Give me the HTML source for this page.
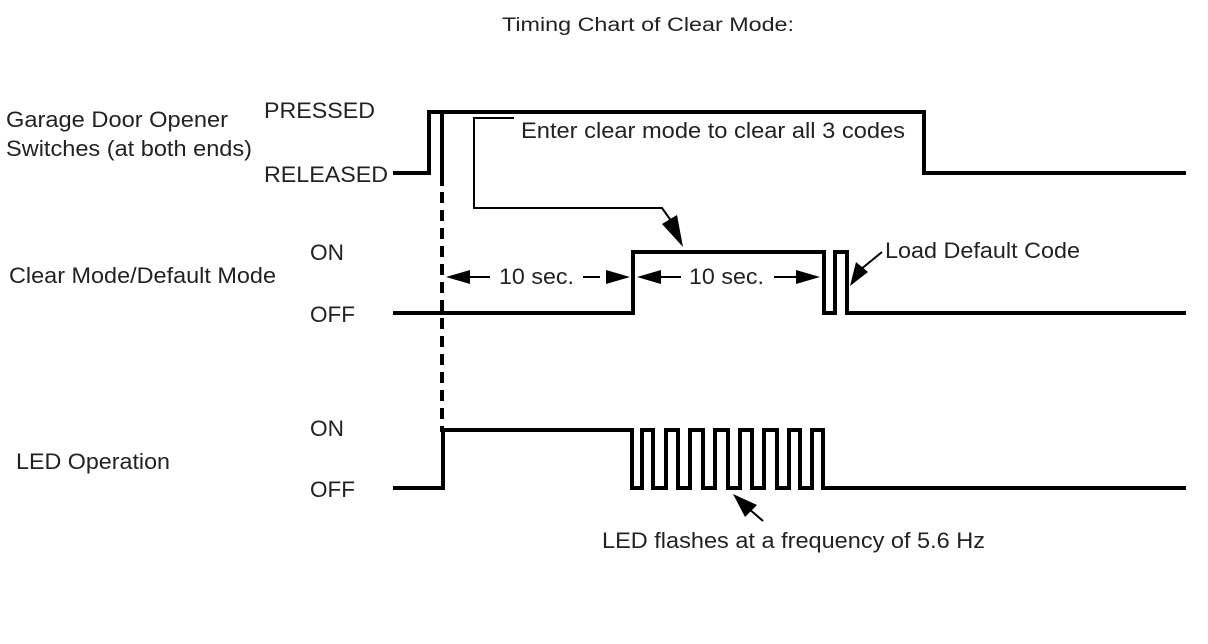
<!DOCTYPE html>
<html><head><meta charset="utf-8"><style>
html,body{margin:0;padding:0;background:#fff;}
svg{display:block;}
text{font-family:"Liberation Sans",Arial,sans-serif;fill:#222;}
</style></head><body>
<svg width="1208" height="644" viewBox="0 0 1208 644" xmlns="http://www.w3.org/2000/svg">
<g font-size="19">
<text x="502" y="31" textLength="292" lengthAdjust="spacingAndGlyphs">Timing Chart of Clear Mode:</text>
</g>
<g font-size="22">
<text x="6" y="127" textLength="222" lengthAdjust="spacingAndGlyphs">Garage Door Opener</text>
<text x="6" y="156" textLength="246" lengthAdjust="spacingAndGlyphs">Switches (at both ends)</text>
<text x="264" y="118" textLength="111" lengthAdjust="spacingAndGlyphs">PRESSED</text>
<text x="264" y="182" textLength="124" lengthAdjust="spacingAndGlyphs">RELEASED</text>
<text x="9" y="283" textLength="267" lengthAdjust="spacingAndGlyphs">Clear Mode/Default Mode</text>
<text x="310" y="260" textLength="34" lengthAdjust="spacingAndGlyphs">ON</text>
<text x="310" y="322" textLength="45" lengthAdjust="spacingAndGlyphs">OFF</text>
<text x="16" y="469" textLength="154" lengthAdjust="spacingAndGlyphs">LED Operation</text>
<text x="310" y="436" textLength="34" lengthAdjust="spacingAndGlyphs">ON</text>
<text x="310" y="497" textLength="45" lengthAdjust="spacingAndGlyphs">OFF</text>
<text x="521" y="138" textLength="384" lengthAdjust="spacingAndGlyphs">Enter clear mode to clear all 3 codes</text>
<text x="885" y="258" textLength="195" lengthAdjust="spacingAndGlyphs">Load Default Code</text>
<text x="602" y="548" textLength="383" lengthAdjust="spacingAndGlyphs">LED flashes at a frequency of 5.6 Hz</text>
<text x="499" y="284" textLength="75" lengthAdjust="spacingAndGlyphs">10 sec.</text>
<text x="689" y="284" textLength="75" lengthAdjust="spacingAndGlyphs">10 sec.</text>
</g>
<g fill="none" stroke="#000" stroke-width="4" stroke-linejoin="miter">
<polyline points="393,173 429,173 429,112 924,112 924,173 1186,173"/>
<polyline points="393,313 633,313 633,252 824,252 824,313 835,313 835,252 847,252 847,313 1186,313"/>
<polyline points="393,488 443,488 443,430 632,430 632,488 642,488 642,430 653,430 653,488 666,488 666,430 678,430 678,488 690,488 690,430 703,430 703,488 715,488 715,430 728,430 728,488 740,488 740,430 752,430 752,488 764,488 764,430 777,430 777,488 789,488 789,430 800,430 800,488 812,488 812,430 823,430 823,488 1186,488"/>
<line x1="442" y1="112" x2="442" y2="186"/>
<line x1="442" y1="192" x2="442" y2="432" stroke-dasharray="11,7"/>
</g>
<g fill="none" stroke="#000" stroke-width="2">
<polyline points="514,118 474,118 474,208 662,208 672,222"/>
<line x1="460" y1="277" x2="490" y2="277"/>
<line x1="583" y1="277" x2="600" y2="277"/>
<line x1="648" y1="277" x2="681" y2="277"/>
<line x1="774" y1="277" x2="800" y2="277"/>
<line x1="882" y1="252" x2="860" y2="270"/>
<line x1="763" y1="521" x2="748" y2="508"/>
</g>
<g fill="#000">
<polygon points="683,247 662,224 677,215"/>
<polygon points="446,277 470,270 470,284"/>
<polygon points="630,277 606,270 606,284"/>
<polygon points="637,277 661,270 661,284"/>
<polygon points="820,277 796,270 796,284"/>
<polygon points="850,286 856,262 868,272"/>
<polygon points="733,494 757,505 745,517"/>
</g>
</svg>
</body></html>
